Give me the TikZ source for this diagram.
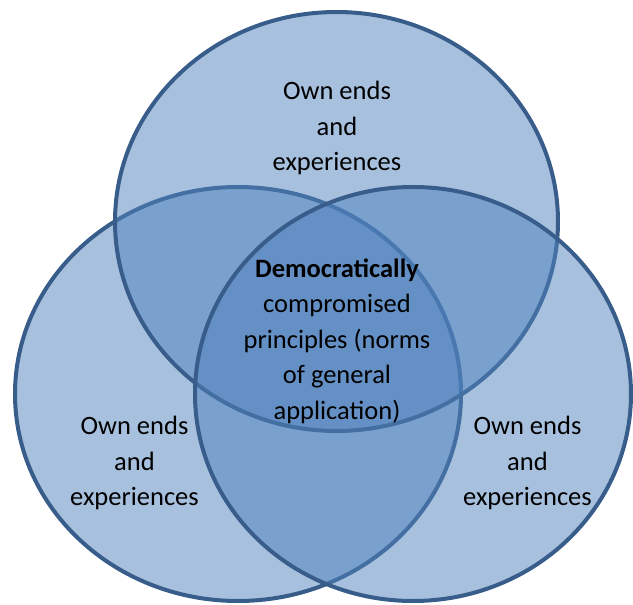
\documentclass[tikz,border=0pt]{standalone}
\usepackage{fontspec}
\setmainfont{Carlito}
\usetikzlibrary{positioning}
\definecolor{vennfill}{HTML}{4F81BD}
\definecolor{vennline}{HTML}{385D8A}

\begin{document}
\begin{tikzpicture} [x=1pt,y=-1pt,
  venn/.style={draw=vennline,line width=4pt,fill=vennfill,fill opacity=.5,draw opacity=1},
  venntext/.style={align=center,text=black,font=\fontsize{26.5}{35.5}\selectfont}]

\useasboundingbox (0,0) rectangle (633,605);

\coordinate (L) at (238,394);
\coordinate (T) at (336.5,221.5);
\coordinate (R) at (413,394);

\draw[venn] (L) ellipse [x radius=223, y radius=207];
\draw[venn] (T) ellipse [x radius=221.5, y radius=209.5];
\draw[venn] (R) ellipse [x radius=218, y radius=207];

\node[venntext] (ownT) at (337,128) {Own ends\\and\\experiences};
\node[venntext] (ownL) at (134.5,463) {Own ends\\and\\experiences};
\node[venntext] (ownR) at (527.5,463) {Own ends\\and\\experiences};
\node[venntext] (core) at (337,341) {\textbf{Democratically}\\compromised\\principles (norms\\of general\\application)};

\end{tikzpicture}
\end{document}
